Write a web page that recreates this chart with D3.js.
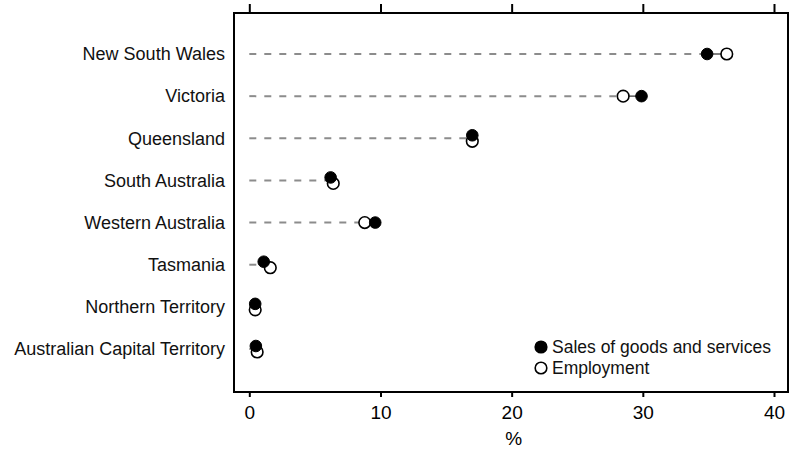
<!DOCTYPE html>
<html>
<head>
<meta charset="utf-8">
<script src="https://cdn.jsdelivr.net/npm/d3@7"></script>
<style>
  body { margin: 0; background: #fff; }
  svg { display: block; font-family: "Liberation Sans", Arial, sans-serif; }
</style>
</head>
<body>
<svg id="chart" width="789" height="450"></svg>
<script>
const categories = ["New South Wales", "Victoria", "Queensland", "South Australia",
  "Western Australia", "Tasmania", "Northern Territory", "Australian Capital Territory"];
const salesValues = [34.9, 29.9, 17.0, 6.2, 9.6, 1.1, 0.45, 0.5];
const employmentValues = [36.4, 28.5, 17.0, 6.4, 8.8, 1.6, 0.45, 0.6];
const xTicks = [0, 10, 20, 30, 40];
const seriesNames = ["Sales of goods and services", "Employment"];
const axisTitle = "%";

const svg = d3.select("#chart");
const frame = { left: 234, top: 13, right: 788, bottom: 392 };

const x = d3.scaleLinear().domain([0, 40]).range([249.3, 774]);
const y = d3.scalePoint().domain(categories).range([54, 349]);

const data = categories.map((c, i) => ({ cat: c, s: salesValues[i], e: employmentValues[i] }));
const r = 5.8;
const dodge = 3;

// connector lines
data.forEach(d => {
  const lo = Math.min(d.s, d.e), hi = Math.max(d.s, d.e);
  const yy = y(d.cat);
  svg.append("line")
    .attr("x1", x(0)).attr("x2", x(lo)).attr("y1", yy).attr("y2", yy)
    .attr("stroke", "#8c8c8c").attr("stroke-width", 2).attr("stroke-dasharray", "7,8");
  svg.append("line")
    .attr("x1", x(lo)).attr("x2", x(hi)).attr("y1", yy).attr("y2", yy)
    .attr("stroke", "#555").attr("stroke-width", 1.5);
});

function close(d) { return Math.abs(x(d.s) - x(d.e)) < 9; }

// employment (open) markers
svg.append("g").selectAll("circle").data(data).join("circle")
  .attr("cx", d => x(d.e))
  .attr("cy", d => y(d.cat) + (close(d) ? dodge : 0))
  .attr("r", r).attr("fill", "#fff").attr("stroke", "#000").attr("stroke-width", 1.6);

// sales (filled) markers
svg.append("g").selectAll("circle").data(data).join("circle")
  .attr("cx", d => x(d.s))
  .attr("cy", d => y(d.cat) - (close(d) ? dodge : 0))
  .attr("r", r).attr("fill", "#000").attr("stroke", "#000").attr("stroke-width", 1);

// frame
svg.append("rect")
  .attr("x", frame.left).attr("y", frame.top)
  .attr("width", frame.right - frame.left).attr("height", frame.bottom - frame.top)
  .attr("fill", "none").attr("stroke", "#000").attr("stroke-width", 2);

// top ticks
svg.append("g").attr("transform", `translate(0,${frame.top})`)
  .call(d3.axisTop(x).tickValues(xTicks).tickSize(9).tickFormat(""))
  .call(g => g.select(".domain").remove())
  .call(g => g.selectAll(".tick line").attr("stroke", "#000").attr("stroke-width", 2));

// bottom axis
const bx = svg.append("g").attr("transform", `translate(0,${frame.bottom})`)
  .call(d3.axisBottom(x).tickValues(xTicks).tickSize(5).tickPadding(9).tickFormat(d3.format("d")));
bx.select(".domain").remove();
bx.selectAll(".tick line").attr("stroke", "#000").attr("stroke-width", 2);
bx.selectAll(".tick text").attr("font-size", 19).attr("fill", "#000")
  .attr("font-family", "'Liberation Sans', Arial, sans-serif");

svg.append("text").attr("x", x(20) + 2).attr("y", 445)
  .attr("text-anchor", "middle").attr("font-size", 19).text(axisTitle);

// category labels
svg.append("g").selectAll("text").data(categories).join("text")
  .attr("x", 225).attr("y", d => y(d)).attr("dy", "0.35em")
  .attr("text-anchor", "end").attr("font-size", 18).attr("fill", "#111")
  .text(d => d);

// legend
const lg = svg.append("g");
const legendY = [347, 368];
seriesNames.forEach((n, i) => {
  lg.append("circle").attr("cx", 541).attr("cy", legendY[i]).attr("r", r)
    .attr("fill", i === 0 ? "#000" : "#fff").attr("stroke", "#000").attr("stroke-width", 1.6);
  lg.append("text").attr("x", 552).attr("y", legendY[i]).attr("dy", "0.35em")
    .attr("font-size", 17.5).attr("fill", "#111").text(n);
});
</script>
</body>
</html>
